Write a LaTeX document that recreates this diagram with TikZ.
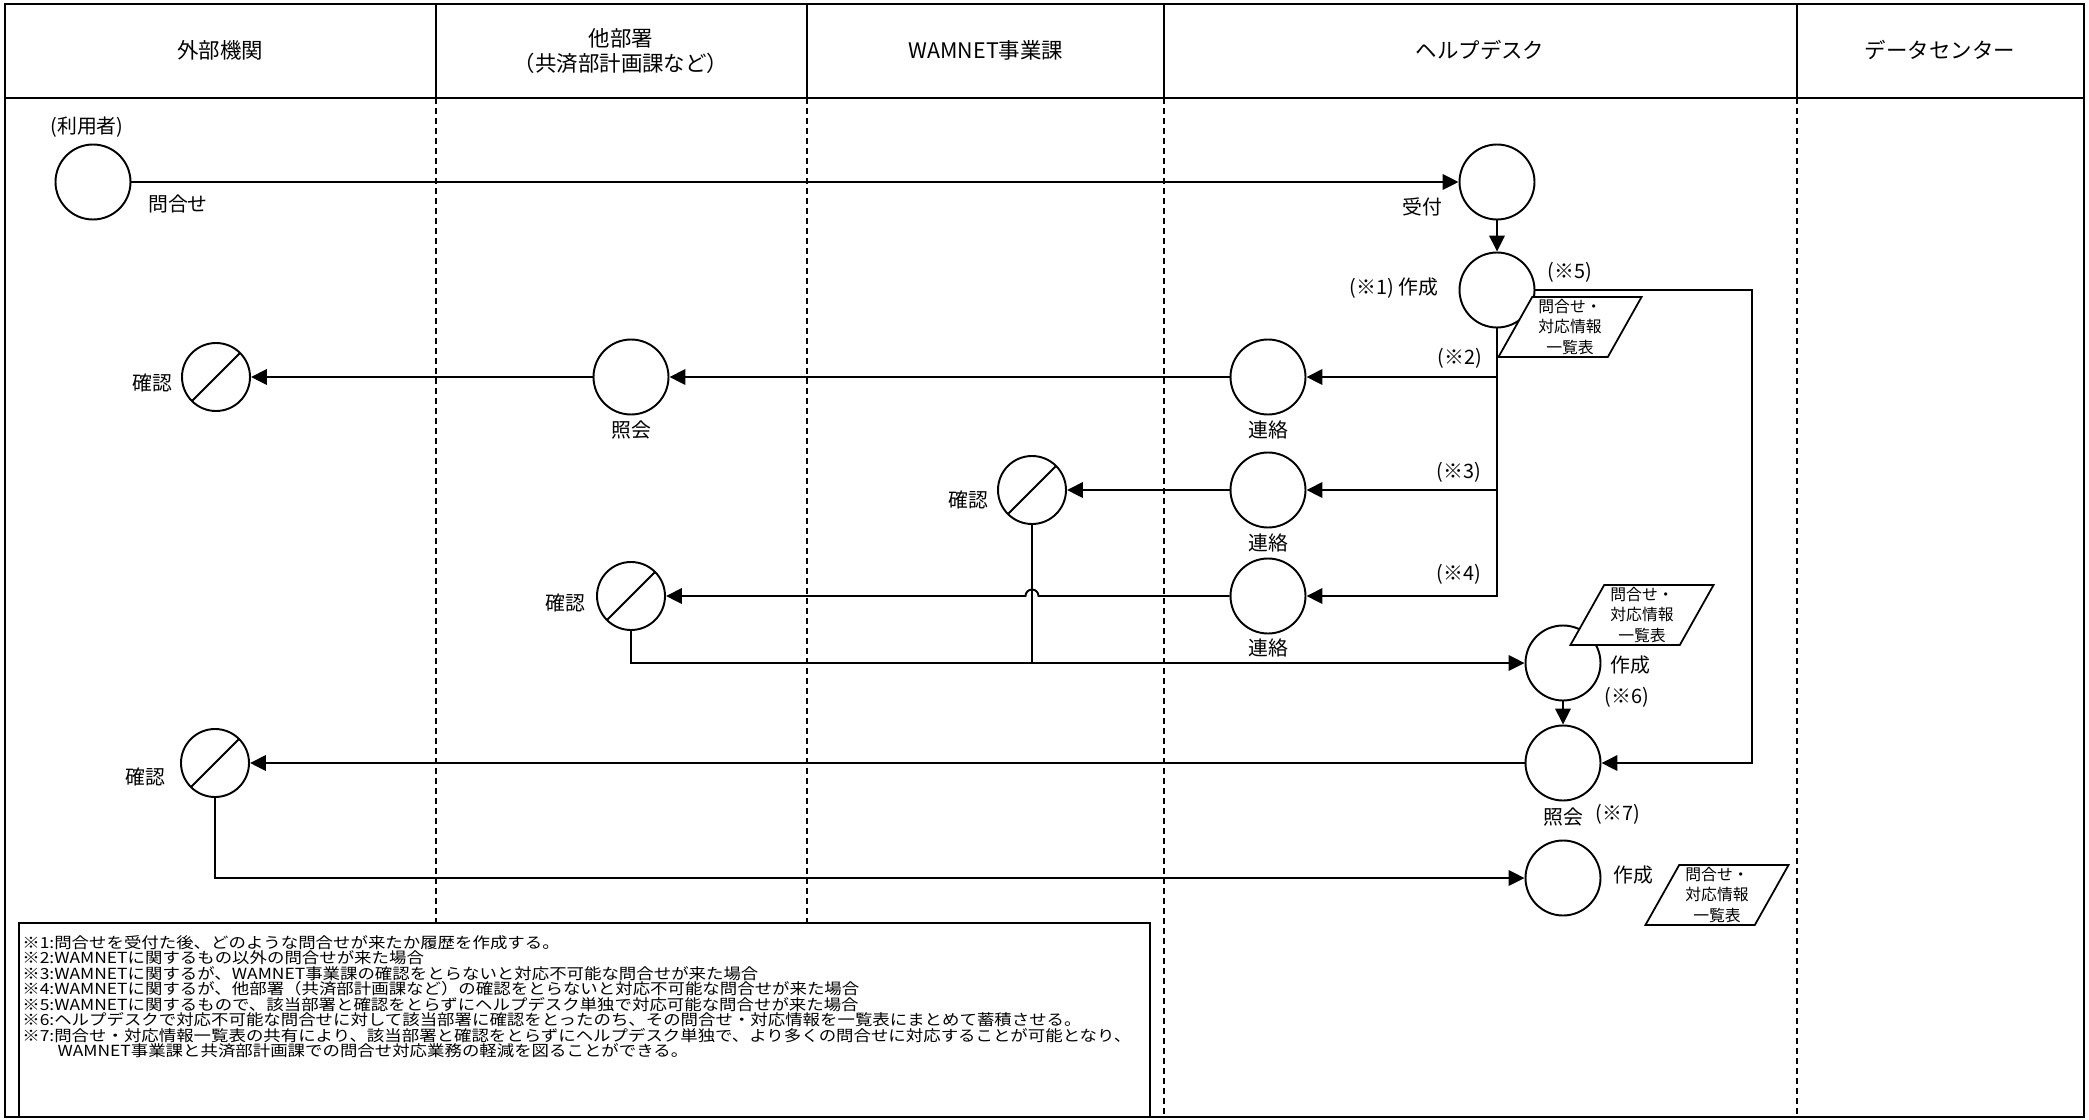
\documentclass[tikz,border=0pt]{standalone}
\usepackage{fontspec}
\setmainfont{Noto Sans CJK JP}
\newfontfamily\notefont[FakeStretch=1.14]{Noto Sans CJK JP}
\usetikzlibrary{arrows.meta,shapes.geometric,positioning,calc}

\begin{document}
\begin{tikzpicture}[x=0.2mm, y=-0.2mm,
	proc/.style={circle, draw, line width=1.1pt, fill=white, minimum size=1.5cm, inner sep=0pt},
	chk/.style={circle, draw, line width=1.1pt, fill=white, minimum size=1.36cm, inner sep=0pt,
		path picture={\draw[line width=1.1pt] (path picture bounding box.south west) -- (path picture bounding box.north east);}},
	lst/.style={trapezium, trapezium left angle=63.4, trapezium right angle=116.6, trapezium stretches=true,
		draw, line width=1pt, fill=white, minimum width=2.88cm, minimum height=1.2cm, inner sep=0pt,
		align=center, font=\fontsize{9}{11.9}\selectfont},
	hdr/.style={font=\fontsize{12.2}{14.4}\selectfont, inner sep=0pt},
	lbl/.style={font=\fontsize{11.3}{13}\selectfont, inner sep=0pt},
	arr/.style={line width=1.1pt, -{Triangle[length=3.2mm, width=3.1mm]}},
	lane/.style={line width=1pt, dash pattern=on 1.2mm off 0.8mm}]
		\useasboundingbox (0,0) rectangle (2089,1120);

		\foreach \x in {436,807,1164,1797} {
			\draw[line width=1pt] (\x,4) -- (\x,98);
			\draw[lane] (\x,98) -- (\x,1117);
		}
		\draw[line width=1.6pt] (5,98) -- (2084,98);
		\draw[line width=1.6pt] (5,4) rectangle (2084,1117);

		\node[hdr] (h1) at (220,50) {外部機関};
		\node[hdr, align=center] (h2) at (621,51) {他部署\\（共済部計画課など）};
		\node[hdr] (h3) at (986,50) {WAMNET事業課};
		\node[hdr] (h4) at (1480,50) {ヘルプデスク};
		\node[hdr] (h5) at (1940,50) {データセンター};

		\node[proc] (U) at (93,182) {};
		\node[proc] (R) at (1497,182) {};
		\node[proc] (S1) at (1497,290) {};
		\node[proc] (L1) at (1268,377) {};
		\node[proc] (L2) at (1268,490) {};
		\node[proc] (L3) at (1268,596) {};
		\node[proc] (Q1) at (631,377) {};
		\node[chk] (K1) at (216,377) {};
		\node[chk] (K2) at (1032,490) {};
		\node[chk] (K3) at (631,596) {};
		\node[proc] (S2) at (1563,663) {};
		\node[proc] (Q2) at (1563,763) {};
		\node[chk] (K4) at (215,763) {};
		\node[proc] (S3) at (1563,878) {};
		\coordinate (turn) at (1752,290);

		\node[lbl] at (87,127) {(利用者)};
		\node[lbl] at (178,204) {問合せ};
		\node[lbl] at (1422,207) {受付};
		\node[lbl] at (1394,288) {(※1) 作成};
		\node[lbl] at (1570,272) {(※5)};
		\node[lbl] at (1460,358) {(※2)};
		\node[lbl] at (1459,472) {(※3)};
		\node[lbl] at (1459,574) {(※4)};
		\node[lbl] at (1268,430) {連絡};
		\node[lbl] at (1268,543) {連絡};
		\node[lbl] at (1268,648) {連絡};
		\node[lbl] at (631,430) {照会};
		\node[lbl] at (152,383) {確認};
		\node[lbl] at (968,500) {確認};
		\node[lbl] at (565,603) {確認};
		\node[lbl] at (145,777) {確認};
		\node[lbl] at (1630,665) {作成};
		\node[lbl] at (1627,697) {(※6)};
		\node[lbl] at (1563,817) {照会};
		\node[lbl] at (1618,814) {(※7)};
		\node[lbl] at (1633,875) {作成};

		\draw[arr] (U.east) -- (R.west);
		\draw[arr] (R.south) -- (S1.north);
		\draw[arr] (S1.east) -- (turn) |- (Q2.east);
		\draw[arr] (S1.south |- L1.east) -- (L1.east);
		\draw[arr] (S1.south |- L2.east) -- (L2.east);
		\draw[arr] (S1.south) |- (L3.east);
		\draw[arr] (L1.west) -- (Q1.east);
		\draw[arr] (Q1.west) -- (K1.east);
		\draw[arr] (L2.west) -- (K2.east);
		\draw[arr] (L3.west) -- ($(K2.center |- L3.west)+(0.13cm,0)$)
			arc[start angle=0, end angle=180, radius=0.13cm] -- (K3.east);
		\draw[line width=1.1pt] (K2.south) -- (K2.south |- S2.west);
		\draw[arr] (K3.south) |- (S2.west);
		\draw[arr] (S2.south) -- (Q2.north);
		\draw[arr] (Q2.west) -- (K4.east);
		\draw[arr] (K4.south) |- (S3.west);

		\node[lst] (T1) at (1570,327) {問合せ・\\対応情報\\一覧表};
		\node[lst] (T2) at (1642,615) {問合せ・\\対応情報\\一覧表};
		\node[lst] (T3) at (1717,895) {問合せ・\\対応情報\\一覧表};

		\draw[fill=white, line width=0.8pt] (19,923) rectangle (1150,1117);
		\node[anchor=north west, align=left, inner sep=0pt,
			font={\notefont\fontsize{8.7}{8.8}\selectfont\lineskiplimit=-10pt\lineskip=0pt\relax}] (note) at (22,935) {
			※1:問合せを受付た後、どのような問合せが来たか履歴を作成する。\\
			※2:WAMNETに関するもの以外の問合せが来た場合\\
			※3:WAMNETに関するが、WAMNET事業課の確認をとらないと対応不可能な問合せが来た場合\\
			※4:WAMNETに関するが、他部署（共済部計画課など）の確認をとらないと対応不可能な問合せが来た場合\\
			※5:WAMNETに関するもので、該当部署と確認をとらずにヘルプデスク単独で対応可能な問合せが来た場合\\
			※6:ヘルプデスクで対応不可能な問合せに対して該当部署に確認をとったのち、その問合せ・対応情報を一覧表にまとめて蓄積させる。\\
			※7:問合せ・対応情報一覧表の共有により、該当部署と確認をとらずにヘルプデスク単独で、より多くの問合せに対応することが可能となり、\\
			\hspace*{2.3em}WAMNET事業課と共済部計画課での問合せ対応業務の軽減を図ることができる。
		};
	\end{tikzpicture}
\end{document}
